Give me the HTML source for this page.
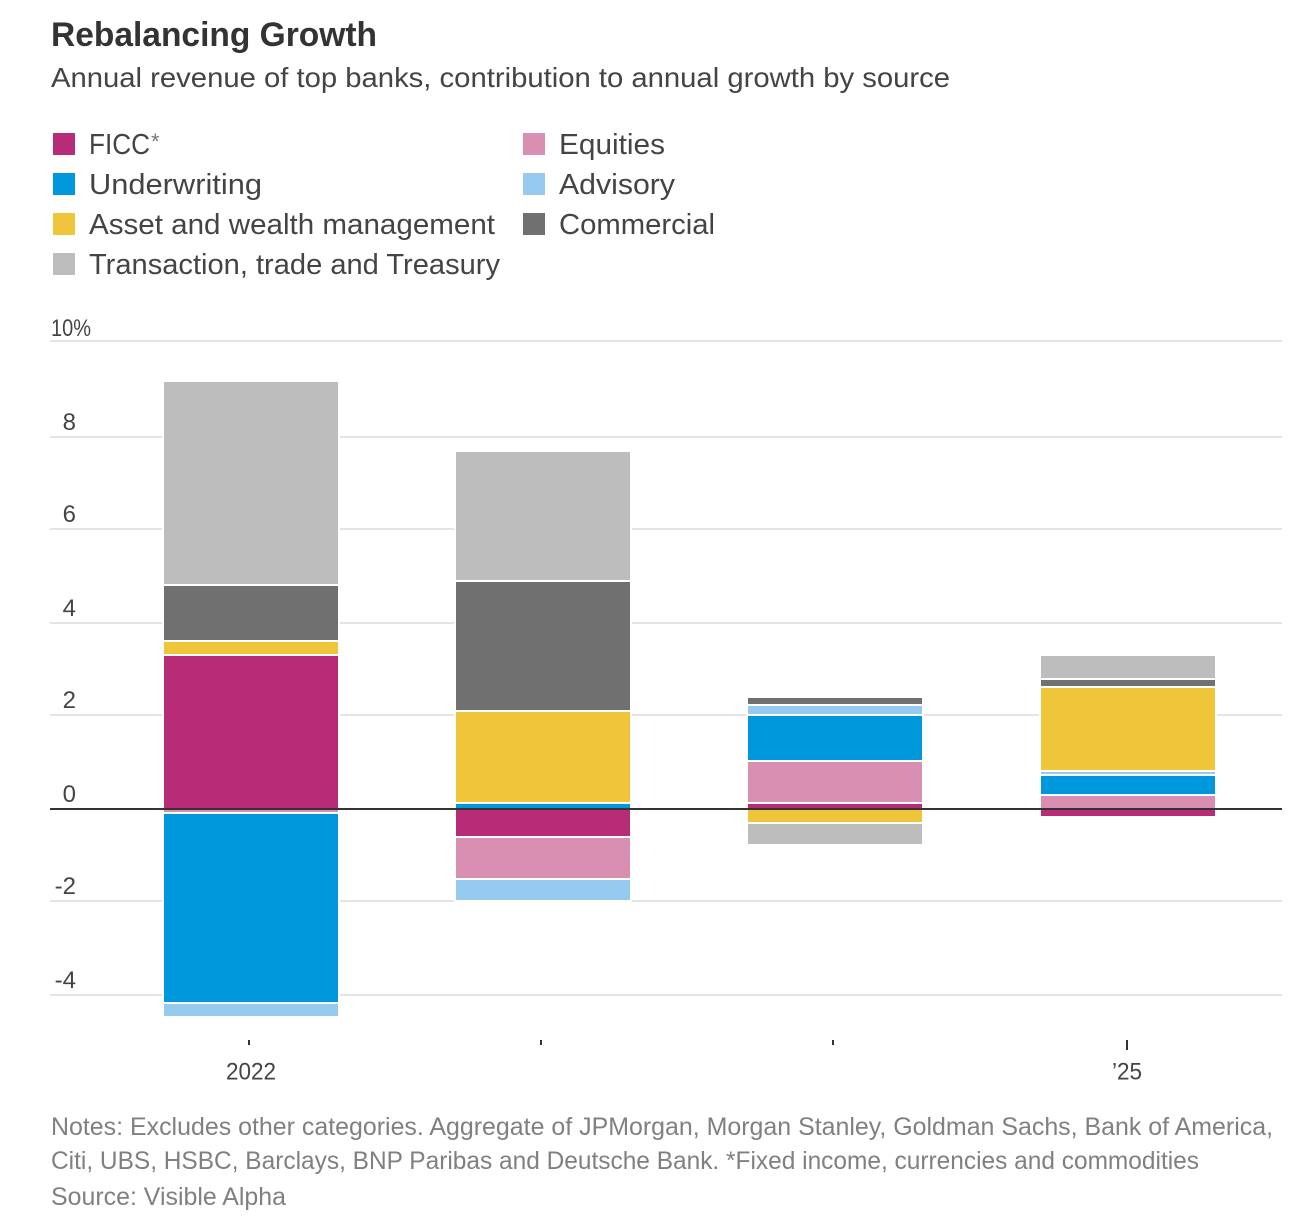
<!DOCTYPE html>
<html lang="en">
<head>
<meta charset="utf-8">
<title>Rebalancing Growth</title>
<style>
  html, body { margin: 0; padding: 0; background: #fff; }
  svg { display: block; font-family: "Liberation Sans", sans-serif; }
  .title { font-size: 34px; font-weight: 700; fill: #333; }
  .subtitle { font-size: 28px; fill: #444; }
  .legend-text { font-size: 29px; fill: #444; }
  .tick-text { font-size: 24px; fill: #444; }
  .note { font-size: 25px; fill: #808080; }
</style>
</head>
<body>
<svg id="chart" xmlns="http://www.w3.org/2000/svg" width="1316" height="1224" viewBox="0 0 1316 1224">
  <rect x="0" y="0" width="1316" height="1224" fill="#fff"/>
  <text class="title" x="51" y="46" textLength="326" lengthAdjust="spacingAndGlyphs">Rebalancing Growth</text>
  <text class="subtitle" x="51" y="87" textLength="899" lengthAdjust="spacingAndGlyphs">Annual revenue of top banks, contribution to annual growth by source</text>

  <g>
    <g>
      <rect x="53" y="133" width="22" height="22" fill="#b82c77"/>
      <text class="legend-text" x="89" y="154" textLength="61" lengthAdjust="spacingAndGlyphs">FICC</text>
      <text x="151" y="149" font-size="22" fill="#777">*</text>
    </g>
    <g>
      <rect x="53" y="173" width="22" height="22" fill="#0098dd"/>
      <text class="legend-text" x="89" y="194" textLength="173" lengthAdjust="spacingAndGlyphs">Underwriting</text>
    </g>
    <g>
      <rect x="53" y="213" width="22" height="22" fill="#efc53a"/>
      <text class="legend-text" x="89" y="234" textLength="406" lengthAdjust="spacingAndGlyphs">Asset and wealth management</text>
    </g>
    <g>
      <rect x="53" y="253" width="22" height="22" fill="#bdbdbd"/>
      <text class="legend-text" x="89" y="274" textLength="411" lengthAdjust="spacingAndGlyphs">Transaction, trade and Treasury</text>
    </g>
    <g>
      <rect x="523" y="133" width="22" height="22" fill="#d88fb1"/>
      <text class="legend-text" x="559" y="154" textLength="106" lengthAdjust="spacingAndGlyphs">Equities</text>
    </g>
    <g>
      <rect x="523" y="173" width="22" height="22" fill="#96cbef"/>
      <text class="legend-text" x="559" y="194" textLength="116" lengthAdjust="spacingAndGlyphs">Advisory</text>
    </g>
    <g>
      <rect x="523" y="213" width="22" height="22" fill="#707070"/>
      <text class="legend-text" x="559" y="234" textLength="156" lengthAdjust="spacingAndGlyphs">Commercial</text>
    </g>
  </g>

  <g id="grid"></g>
  <g id="bars"></g>
  <g id="xaxis"></g>
  <line id="zero" stroke="#333" stroke-width="2"/>

  <g>
    <text class="note" x="51" y="1135" textLength="1222" lengthAdjust="spacingAndGlyphs">Notes: Excludes other categories. Aggregate of JPMorgan, Morgan Stanley, Goldman Sachs, Bank of America,</text>
    <text class="note" x="51" y="1169" textLength="1148" lengthAdjust="spacingAndGlyphs">Citi, UBS, HSBC, Barclays, BNP Paribas and Deutsche Bank. *Fixed income, currencies and commodities</text>
    <text class="note" x="51" y="1205" textLength="235" lengthAdjust="spacingAndGlyphs">Source: Visible Alpha</text>
  </g>
</svg>
<script>
const categories = ["2022", "", "", "\u201925"];
const tickValues = [-4, -2, 0, 2, 4, 6, 8, 10];
const tickLabels = ["-4", "-2", "0", "2", "4", "6", "8", "10%"];

const ficc = [3.31, -0.60, 0.13, -0.17];
const equities = [-0.09, -0.90, 0.90, 0.30];
const underwriting = [-4.09, 0.13, 0.99, 0.43];
const advisory = [-0.30, -0.47, 0.22, 0.09];
const assetWealth = [0.30, 1.98, -0.30, 1.81];
const commercial = [1.20, 2.80, 0.17, 0.17];
const transaction = [4.36, 2.80, -0.47, 0.52];

const seriesNames = ["ficc", "equities", "underwriting", "advisory", "asset-wealth", "commercial", "transaction"];
const seriesValues = [ficc, equities, underwriting, advisory, assetWealth, commercial, transaction];
const seriesColors = ["#b82c77", "#d88fb1", "#0098dd", "#96cbef", "#efc53a", "#707070", "#bdbdbd"];

const NS = "http://www.w3.org/2000/svg";
const gridLayer = document.getElementById("grid");
const barLayer = document.getElementById("bars");
const xLayer = document.getElementById("xaxis");
const zeroLine = document.getElementById("zero");

function yScale(v) {
  if (v <= 8) return 809 - 46.5 * v;
  return 437 - (v - 8) * 48;
}
function gridSnap(y) {
  return Math.floor((y - 1) / 2) * 2 + 1;
}
function markSnap(y) {
  return Math.round((y - 1) / 2) * 2 + 1;
}
function xCenter(i) {
  return Math.round(251 + i * 292.2);
}
function make(tag, attrs, parent) {
  const el = document.createElementNS(NS, tag);
  for (const k in attrs) el.setAttribute(k, attrs[k]);
  parent.appendChild(el);
  return el;
}

tickValues.forEach(function (v, i) {
  const label = tickLabels[i];
  const wide = label.indexOf("%") >= 0;
  const gy = gridSnap(yScale(v));
  if (v !== 0) {
    const line = make("line", { x1: 50, x2: 1282, y1: gy, y2: gy, stroke: "#e5e5e5", "stroke-width": 2 }, gridLayer);
    
    
  }
  const t = make("text", { class: "tick-text", y: gy - (wide ? 5 : 7) }, gridLayer);
  
  
  if (wide) {
    t.setAttribute("x", 51);
    t.setAttribute("textLength", 40);
    t.setAttribute("lengthAdjust", "spacingAndGlyphs");
  } else {
    t.setAttribute("x", 76);
    t.setAttribute("text-anchor", "end");
  }
  t.textContent = label;
});

categories.forEach(function (cat, i) {
  let pos = 0;
  let neg = 0;
  const cx = xCenter(i);
  const last = i === categories.length - 1;
  seriesValues.forEach(function (vals, s) {
    const v = vals[i];
    const start = v >= 0 ? pos : neg;
    const end = start + v;
    if (v >= 0) pos = end; else neg = end;
    const a = start === 0 ? 809 : markSnap(yScale(start));
    const b = markSnap(yScale(end));
    const top = Math.min(a, b);
    const bottom = Math.max(a, b);
    const r = make("rect", { x: cx - 88, y: top, width: 176, height: bottom - top, fill: seriesColors[s], stroke: "#fff", "stroke-width": 2 }, barLayer);
    
    
  });
  const tickX = last ? cx - 1 : cx - 2;
  const tick = make("line", { x1: tickX, x2: tickX, y1: 1040, y2: last ? 1050 : 1045, stroke: "#333", "stroke-width": 2 }, xLayer);
  
  
  if (cat) {
    const lab = make("text", { class: "tick-text", x: last ? cx - 1 : cx, y: 1079.5, "text-anchor": "middle", textLength: last ? 30 : 50, lengthAdjust: "spacingAndGlyphs" }, xLayer);
    
    
    lab.textContent = cat;
  }
});

zeroLine.setAttribute("x1", 50);
zeroLine.setAttribute("x2", 1282);
zeroLine.setAttribute("y1", yScale(0));
zeroLine.setAttribute("y2", yScale(0));
</script>
</body>
</html>
